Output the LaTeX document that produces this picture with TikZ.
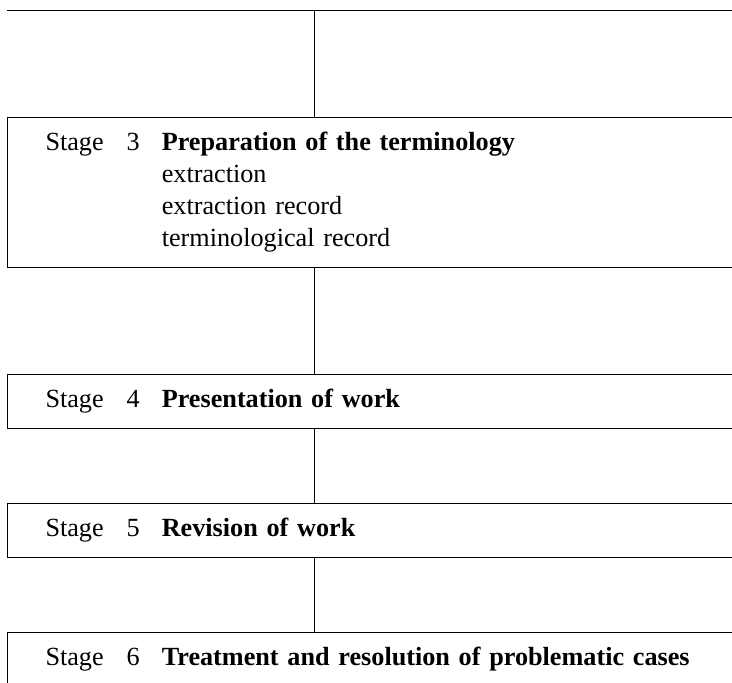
\documentclass[tikz,border=0pt]{standalone}
\usepackage{fontspec}
\setmainfont{Liberation Serif}
\usetikzlibrary{positioning}
\tikzset{st/.style={draw,line width=1pt,anchor=north west,align=left,text width=700pt,inner xsep=38pt,inner ysep=0pt,text height=33pt,text depth=21pt,font=\fontsize{26.2}{32}\selectfont},
 ln/.style={line width=1pt}}
\begin{document}
\begin{tikzpicture}[x=1pt,y=-1pt,node distance=74pt]
\useasboundingbox(0,0)rectangle(732,683);\clip(0,0)rectangle(732,683);
\coordinate(top)at(314,10);\draw[ln](7,10)--(783,10);
\node[st,text depth=117pt](s3)at(7,117){Stage\hspace{23pt}3\hspace{22pt}\begin{tabular}[t]{@{}l@{}}\textbf{Preparation of the terminology}\\extraction\\extraction record\\terminological record\end{tabular}};
\node[st,below=106pt of s3](s4){Stage\hspace{23pt}4\hspace{22pt}\textbf{Presentation of work}};
\node[st,below=of s4](s5){Stage\hspace{23pt}5\hspace{22pt}\textbf{Revision of work}};
\node[st,below=of s5](s6){Stage\hspace{23pt}6\hspace{22pt}\textbf{Treatment and resolution of problematic cases}};
\draw[ln](top)--(s3.north-|top);
\foreach \a/\b in {s3/s4,s4/s5,s5/s6}\draw[ln](\a.south-|top)--(\b.north-|top);
\end{tikzpicture}
\end{document}
